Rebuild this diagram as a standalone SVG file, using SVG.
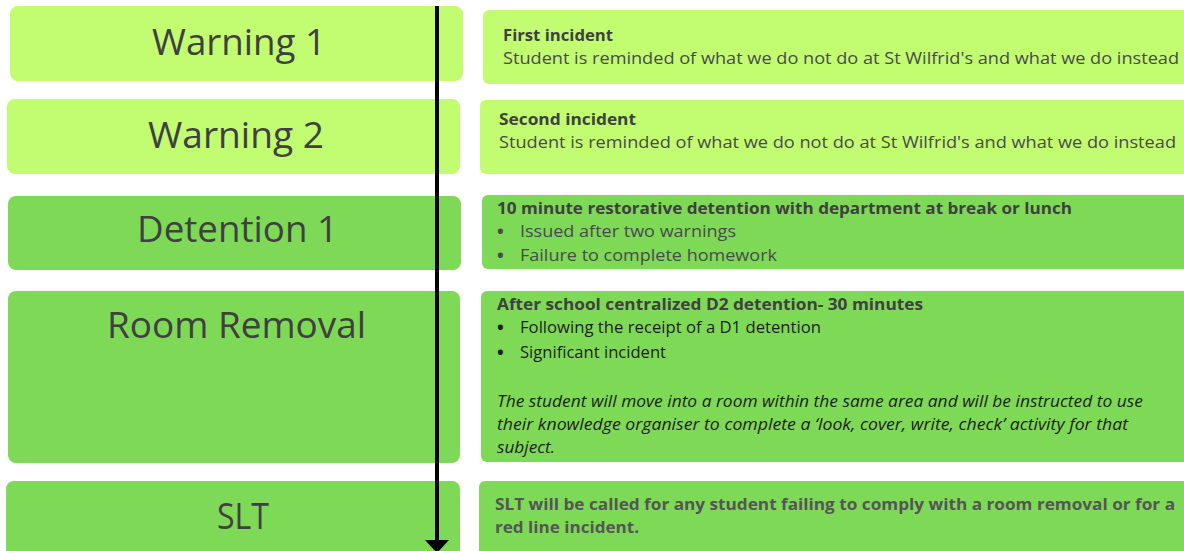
<svg xmlns="http://www.w3.org/2000/svg" width="1184" height="551" viewBox="0 0 1184 551">
<style>
.light{fill:#C1FC71;}
.dark{fill:#7ED957;}
.lbl{font-family:"Open Sans","Liberation Sans",sans-serif;font-size:37px;fill:#404040;}
.hd{font-family:"Open Sans","Liberation Sans",sans-serif;font-size:16px;font-weight:bold;fill:#404040;}
.bd{font-family:"Open Sans","Liberation Sans",sans-serif;font-size:16px;fill:#4a4a4a;}
.bk{font-family:"Open Sans","Liberation Sans",sans-serif;font-size:16px;fill:#1e1e1e;}
.it{font-family:"Open Sans","Liberation Sans",sans-serif;font-size:16px;font-style:italic;fill:#1e1e1e;}
.sl{font-family:"Open Sans","Liberation Sans",sans-serif;font-size:16px;font-weight:bold;fill:#555555;}
.bul{font-family:"Open Sans","Liberation Sans",sans-serif;font-size:18px;font-weight:bold;}
</style>
<defs>
<marker id="ah" viewBox="0 0 13 24" refX="0" refY="12" markerWidth="13" markerHeight="24" markerUnits="userSpaceOnUse" orient="auto">
<polygon points="0,0 13,12 0,24" fill="#000"/>
</marker>
</defs>
<rect width="1184" height="551" fill="#ffffff"/>
<g id="warning1">
<rect class="light" x="10" y="6" width="453" height="75" rx="8"/>
<text class="lbl" x="152" y="55" textLength="174" lengthAdjust="spacingAndGlyphs">Warning 1</text>
</g>
<g id="warning2">
<rect class="light" x="7" y="99" width="453" height="75" rx="8"/>
<text class="lbl" x="148" y="148" textLength="176" lengthAdjust="spacingAndGlyphs">Warning 2</text>
</g>
<g id="detention1">
<rect class="dark" x="8" y="196" width="453" height="74" rx="8"/>
<text class="lbl" x="137" y="242" textLength="201" lengthAdjust="spacingAndGlyphs">Detention 1</text>
</g>
<g id="roomremoval">
<rect class="dark" x="8" y="291" width="452" height="172" rx="8"/>
<text class="lbl" x="107" y="338" textLength="259" lengthAdjust="spacingAndGlyphs">Room Removal</text>
</g>
<g id="slt">
<rect class="dark" x="6" y="481" width="454" height="85" rx="8"/>
<text class="lbl" x="217" y="529" textLength="52" lengthAdjust="spacingAndGlyphs">SLT</text>
</g>
<g id="desc1">
<rect class="light" x="483" y="10" width="720" height="74" rx="6"/>
<text class="hd" x="503" y="41" textLength="110" lengthAdjust="spacingAndGlyphs">First incident</text>
<text class="bd" x="503" y="64" textLength="676" lengthAdjust="spacingAndGlyphs">Student is reminded of what we do not do at St Wilfrid's and what we do instead</text>
</g>
<g id="desc2">
<rect class="light" x="480" y="100" width="720" height="74" rx="6"/>
<text class="hd" x="499" y="125" textLength="137" lengthAdjust="spacingAndGlyphs">Second incident</text>
<text class="bd" x="499" y="148" textLength="677" lengthAdjust="spacingAndGlyphs">Student is reminded of what we do not do at St Wilfrid's and what we do instead</text>
</g>
<g id="desc3">
<rect class="dark" x="482" y="195" width="720" height="74" rx="6"/>
<text class="hd" x="497" y="214" textLength="575" lengthAdjust="spacingAndGlyphs">10 minute restorative detention with department at break or lunch</text>
<text class="bul" x="497" y="238" fill="#4a4a4a">•</text>
<text class="bd" x="520" y="237" textLength="216" lengthAdjust="spacingAndGlyphs">Issued after two warnings</text>
<text class="bul" x="497" y="262" fill="#4a4a4a">•</text>
<text class="bd" x="520" y="261" textLength="257" lengthAdjust="spacingAndGlyphs">Failure to complete homework</text>
</g>
<g id="desc4">
<rect class="dark" x="481" y="291" width="720" height="171" rx="6"/>
<text class="hd" x="497" y="310" textLength="426" lengthAdjust="spacingAndGlyphs">After school centralized D2 detention- 30 minutes</text>
<text class="bul" x="497" y="334" fill="#1e1e1e">•</text>
<text class="bk" x="520" y="333" textLength="301" lengthAdjust="spacingAndGlyphs">Following the receipt of a D1 detention</text>
<text class="bul" x="497" y="359" fill="#1e1e1e">•</text>
<text class="bk" x="520" y="358" textLength="146" lengthAdjust="spacingAndGlyphs">Significant incident</text>
<text class="it" x="497" y="407" textLength="646" lengthAdjust="spacingAndGlyphs">The student will move into a room within the same area and will be instructed to use</text>
<text class="it" x="497" y="430" textLength="631" lengthAdjust="spacingAndGlyphs">their knowledge organiser to complete a ‘look, cover, write, check’ activity for that</text>
<text class="it" x="497" y="453" textLength="58" lengthAdjust="spacingAndGlyphs">subject.</text>
</g>
<g id="desc5">
<rect class="dark" x="479" y="481" width="720" height="85" rx="6"/>
<text class="sl" x="495" y="510" textLength="680" lengthAdjust="spacingAndGlyphs">SLT will be called for any student failing to comply with a room removal or for a</text>
<text class="sl" x="495" y="533" textLength="144" lengthAdjust="spacingAndGlyphs">red line incident.</text>
</g>
<g id="connectors">
<line x1="437" y1="6" x2="437" y2="540" stroke="#000" stroke-width="4" marker-end="url(#ah)"/>
</g>
</svg>
